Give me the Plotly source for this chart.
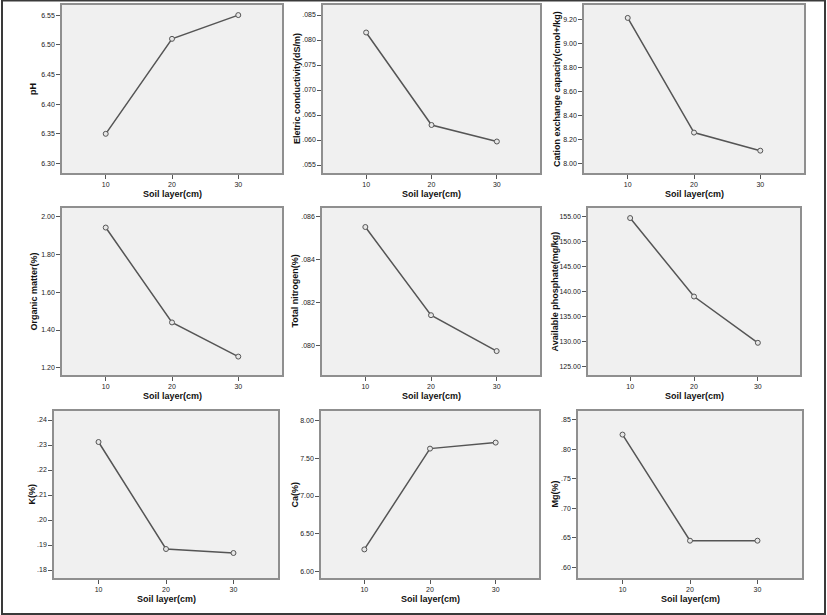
import plotly.graph_objects as go

# ---------------- data ----------------
depth = [10, 20, 30]
x_ticks = [10, 20, 30]
x_ticktext = ["10", "20", "30"]
x_title = "Soil layer(cm)"

ph = [6.35, 6.51, 6.55]
ec = [0.0815, 0.0630, 0.0597]
cec = [9.21, 8.26, 8.11]
om = [1.94, 1.44, 1.26]
tn = [0.08553, 0.0814, 0.07972]
ap = [154.6, 139.0, 129.8]
k = [0.2312, 0.1884, 0.1868]
ca = [6.29, 7.63, 7.71]
mg = [0.825, 0.645, 0.645]

titles = ["pH", "Eletric conductivity(dS/m)", "Cation exchange capacity(cmol+/kg)",
          "Organic matter(%)", "Total nitrogen(%)", "Available phosphate(mg/kg)",
          "K(%)", "Ca(%)", "Mg(%)"]

ph_tv = [6.30, 6.35, 6.40, 6.45, 6.50, 6.55]
ph_tt = ["6.30", "6.35", "6.40", "6.45", "6.50", "6.55"]
ec_tv = [0.055, 0.060, 0.065, 0.070, 0.075, 0.080, 0.085]
ec_tt = [".055", ".060", ".065", ".070", ".075", ".080", ".085"]
cec_tv = [8.0, 8.2, 8.4, 8.6, 8.8, 9.0, 9.2]
cec_tt = ["8.00", "8.20", "8.40", "8.60", "8.80", "9.00", "9.20"]
om_tv = [1.2, 1.4, 1.6, 1.8, 2.0]
om_tt = ["1.20", "1.40", "1.60", "1.80", "2.00"]
tn_tv = [0.080, 0.082, 0.084, 0.086]
tn_tt = [".080", ".082", ".084", ".086"]
ap_tv = [125, 130, 135, 140, 145, 150, 155]
ap_tt = ["125.00", "130.00", "135.00", "140.00", "145.00", "150.00", "155.00"]
k_tv = [0.18, 0.19, 0.20, 0.21, 0.22, 0.23, 0.24]
k_tt = [".18", ".19", ".20", ".21", ".22", ".23", ".24"]
ca_tv = [6.0, 6.5, 7.0, 7.5, 8.0]
ca_tt = ["6.00", "6.50", "7.00", "7.50", "8.00"]
mg_tv = [0.60, 0.65, 0.70, 0.75, 0.80, 0.85]
mg_tt = [".60", ".65", ".70", ".75", ".80", ".85"]

series = [ph, ec, cec, om, tn, ap, k, ca, mg]
tickvals = [ph_tv, ec_tv, cec_tv, om_tv, tn_tv, ap_tv, k_tv, ca_tv, mg_tv]
ticktexts = [ph_tt, ec_tt, cec_tt, om_tt, tn_tt, ap_tt, k_tt, ca_tt, mg_tt]

# ---------------- layout config ----------------
W, H = 827, 615
y_ranges = [[6.284, 6.567], [0.0534, 0.0870], [7.925, 9.317],
            [1.163, 2.043], [0.0786, 0.08642], [123.4, 156.6],
            [0.1768, 0.2436], [5.91, 8.13], [0.5817, 0.865]]
x_range = [3.4, 36.6]
# plot boxes in pixels: (left, right, top, bottom)
boxes = [(62, 282, 5, 173), (323, 540, 5, 173), (584, 804, 5, 173),
         (62, 282, 208, 375), (322, 540, 208, 375), (588, 800, 208, 375),
         (54, 278, 411, 578), (321, 539, 411, 578), (578, 802, 411, 578)]
ytitle_x = [33, 297, 557, 33, 294, 554, 31, 294, 554]

FONT = "Liberation Sans, Arial, sans-serif"
fig = go.Figure()
annotations = []
layout = dict(width=W, height=H, margin=dict(l=0, r=0, t=0, b=0),
              paper_bgcolor="white", plot_bgcolor="#f0f0f0", showlegend=False,
              font=dict(family=FONT, color="#222"))

for i in range(9):
    n = "" if i == 0 else str(i + 1)
    fig.add_trace(go.Scatter(
        x=depth, y=series[i], mode="lines+markers",
        line=dict(color="#555555", width=1.5),
        marker=dict(symbol="circle", size=5, color="#e6e6e6",
                    line=dict(color="#555555", width=1)),
        xaxis="x" + n, yaxis="y" + n, hoverinfo="x+y"))
    l, r, t, b = boxes[i]
    axis_common = dict(showline=True, mirror=True, linecolor="#8f8f8f", linewidth=1.5,
                       ticks="outside", ticklen=4, tickwidth=1, tickcolor="#555",
                       showgrid=False, zeroline=False,
                       tickfont=dict(family=FONT, size=7, color="#222"))
    layout["xaxis" + n] = dict(domain=[l / W, r / W], anchor="y" + n,
                               range=x_range, tickvals=x_ticks, ticktext=x_ticktext,
                               **axis_common)
    layout["yaxis" + n] = dict(domain=[1 - b / H, 1 - t / H], anchor="x" + n,
                               range=y_ranges[i], tickvals=tickvals[i],
                               ticktext=ticktexts[i], **axis_common)
    annotations.append(dict(text="<b>" + x_title + "</b>", xref="paper", yref="paper",
                            x=(l + r) / 2 / W, y=1 - (b + 21) / H,
                            xanchor="center", yanchor="middle", showarrow=False,
                            font=dict(family=FONT, size=9, color="#111")))
    annotations.append(dict(text="<b>" + titles[i] + "</b>", xref="paper", yref="paper",
                            x=ytitle_x[i] / W, y=1 - (t + b) / 2 / H, textangle=-90,
                            xanchor="center", yanchor="middle", showarrow=False,
                            font=dict(family=FONT, size=9, color="#111")))

layout["annotations"] = annotations
layout["shapes"] = [dict(type="rect", xref="paper", yref="paper",
                         x0=2 / W, x1=825 / W, y0=1 - 614 / H, y1=1 - 0.5 / H,
                         line=dict(color="#3a3a3a", width=2), fillcolor="rgba(0,0,0,0)",
                         layer="above")]
fig.update_layout(**layout)
fig.write_html("out.html", config={"displayModeBar": False},
               post_script="document.body.style.margin='0';"
                           "document.body.style.overflow='hidden';")
